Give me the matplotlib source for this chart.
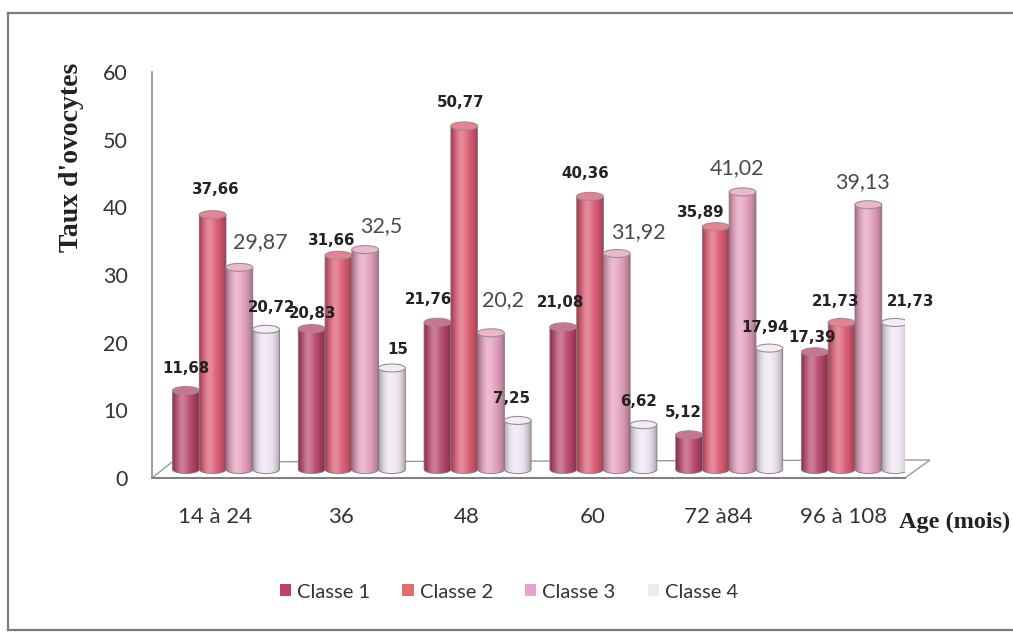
import numpy as np
import matplotlib
matplotlib.use("Agg")
import matplotlib.pyplot as plt
from matplotlib.patches import Ellipse, PathPatch, Polygon, Patch
from matplotlib.path import Path
from matplotlib.transforms import ScaledTranslation
from matplotlib.colors import to_rgb

# ---- data -------------------------------------------------------------
age_groups = ["14 à 24", "36", "48", "60", "72 à84", "96 à 108"]
series_names = ["Classe 1", "Classe 2", "Classe 3", "Classe 4"]
classe1 = [11.68, 20.83, 21.76, 21.08, 5.12, 17.39]
classe2 = [37.66, 31.66, 50.77, 40.36, 35.89, 21.73]
classe3 = [29.87, 32.5, 20.2, 31.92, 41.02, 39.13]
classe4 = [20.72, 15, 7.25, 6.62, 17.94, 21.73]
y_ticks = [0, 10, 20, 30, 40, 50, 60]

# ---- style ------------------------------------------------------------
series_colors = ["#b8456a", "#dc5a72", "#e49fbe", "#efe6f2"]
legend_colors = ["#c0406a", "#e8696b", "#e8a2cf", "#ececef"]
# data-label placement (pixel nudges: dx, height above the cylinder top)
label_dx = [[0, 1, -9, -3, -6, -3],
            [3, -7, -4, -5, -15, -6],
            [21, 16, 12, 22, -6, -6],
            [5, 6, -6, -5, -4, 16]]
label_dy = [[18, 11, 19, 20, 18, 10],
            [21, 11, 19, 19, 10, 17],
            [21, 19, 29, 17, 20, 19],
            [18, 14, 18, 19, 17, 17]]
label_bold = [True, True, False, True]

W, H = 1013, 633
fig = plt.figure(figsize=(W / 100, H / 100), dpi=100)
fig.patch.set_facecolor("white")
ax = fig.add_axes([152 / W, (H - 478) / H, (905 - 152) / W, (478 - 72) / H])
XL, XR = -0.5008, 5.485
ax.set_facecolor("none")

px_x = (905 - 152) / (XR - XL)      # pixels per x unit
px_y = (478 - 72) / 60.0            # pixels per y unit
bar_w = 26.75 / px_x
ell_h = 8.0 / px_y

# cylinders stand a little behind the front edge of the floor
bar_trans = ax.transData + ScaledTranslation(11 / 100, 8.5 / 100, fig.dpi_scale_trans)


def cylinder_gradient(color, n=48):
    base = np.array(to_rgb(color))
    t = np.linspace(0, 1, n)
    light = 0.30 * np.exp(-((t - 0.38) / 0.22) ** 2)
    dark = 0.30 * np.abs(2 * t - 1) ** 2.5
    rgb = base[None, :] * (1 - dark[:, None])
    rgb = rgb + (1 - rgb) * light[:, None]
    return np.clip(rgb[None, :, :], 0, 1)


def draw_cylinder(xc, v, color, z):
    x0, x1 = xc - bar_w / 2, xc + bar_w / 2
    theta = np.linspace(np.pi, 2 * np.pi, 40)
    arc = np.column_stack([xc + bar_w / 2 * np.cos(theta), ell_h / 2 * np.sin(theta)])
    verts = np.vstack([[x0, v], arc, [x1, v], [x0, v]])
    body = PathPatch(Path(verts, closed=True), transform=bar_trans,
                     facecolor="none", edgecolor="#8d6f7c", lw=0.6, zorder=z + 0.2)
    ax.add_patch(body)
    im = ax.imshow(cylinder_gradient(color), extent=(x0, x1, -ell_h / 2, v),
                   transform=bar_trans, aspect="auto", interpolation="bilinear",
                   zorder=z)
    im.set_clip_path(body)
    base = np.array(to_rgb(color))
    top_col = base + (1 - base) * 0.25
    ax.add_patch(Ellipse((xc, v), bar_w, ell_h, transform=bar_trans,
                         facecolor=top_col, edgecolor="#9a8e95", lw=0.8,
                         zorder=z + 0.3))


# ---- floor ------------------------------------------------------------
floor = Polygon([(XL, 0), (XR, 0), (XR + 0.199, 2.66), (XL + 0.159, 2.36)],
                closed=True, facecolor="white", edgecolor="#9a9a9a", lw=1.0,
                clip_on=False, zorder=0.5)
ax.add_patch(floor)
ax.plot([XL, XR], [0, 0], color="#7f7f7f", lw=1.4, clip_on=False, zorder=0.6)

# ---- cylinders and labels --------------------------------------------
all_series = [classe1, classe2, classe3, classe4]
x = np.arange(len(age_groups))
z = 1.0
for gi in range(len(age_groups)):
    for si, vals in enumerate(all_series):
        xc = x[gi] + (si - 1.5) * bar_w
        v = vals[gi]
        draw_cylinder(xc, v, series_colors[si], z)
        z += 0.5
        txt = f"{v:g}".replace(".", ",")
        if label_bold[si]:
            kw = dict(fontfamily="DejaVu Sans", fontweight="bold", fontsize=10.8,
                      color="#222222")
        else:
            kw = dict(fontfamily="Lato", fontsize=15.5, color="#4a4a4a")
        ax.annotate(txt, xy=(xc, v), xycoords=bar_trans,
                    xytext=(label_dx[si][gi], 4 + label_dy[si][gi]),
                    textcoords="offset pixels", ha="center", va="center",
                    annotation_clip=False, zorder=100, **kw)

# ---- axes -------------------------------------------------------------
ax.set_xlim(XL, XR)
ax.set_ylim(0, 60)
for side in ["top", "right", "bottom"]:
    ax.spines[side].set_visible(False)
ax.spines["left"].set_color("#8c8c8c")
ax.spines["left"].set_linewidth(1.2)
ax.set_yticks(y_ticks)
ax.set_yticklabels([str(t) for t in y_ticks], fontfamily="Lato", fontsize=15.5,
                   color="#333333")
ax.set_xticks(x)
ax.set_xticklabels(age_groups, fontfamily="Lato", fontsize=16, color="#333333")
ax.tick_params(axis="y", length=0, pad=17.3)
ax.tick_params(axis="x", length=0, pad=21)

fig.text(72 / W, 1 - 157 / H, "Taux d'ovocytes", rotation=90, ha="center",
         va="center", fontfamily="Liberation Serif", fontweight="bold",
         fontsize=20, color="#222222")
fig.text(899 / W, 1 - 522 / H, "Age (mois)", ha="left", va="center",
         fontfamily="Liberation Serif", fontweight="bold", fontsize=17.5,
         color="#222222")

handles = [Patch(facecolor=c, edgecolor="none") for c in legend_colors]
fig.legend(handles, series_names, loc="center", ncol=4, frameon=False,
           bbox_to_anchor=(509 / W, 1 - 592 / H), handlelength=0.55,
           handleheight=0.55, handletextpad=0.3, columnspacing=1.6,
           prop={"family": "Lato", "size": 14.5}, labelcolor="#333333")

# outer frame around the chart area (open on the right)
frame_kw = dict(color="#7a7a7a", lw=1.6, transform=fig.transFigure)
fig.add_artist(plt.Line2D([8 / W, 8 / W], [3 / H, 620 / H], **frame_kw))
fig.add_artist(plt.Line2D([8 / W, 1.0], [620 / H, 620 / H], **frame_kw))
fig.add_artist(plt.Line2D([8 / W, 1.0], [3 / H, 3 / H], **frame_kw))

fig.savefig("out.png", dpi=100, facecolor="white")
